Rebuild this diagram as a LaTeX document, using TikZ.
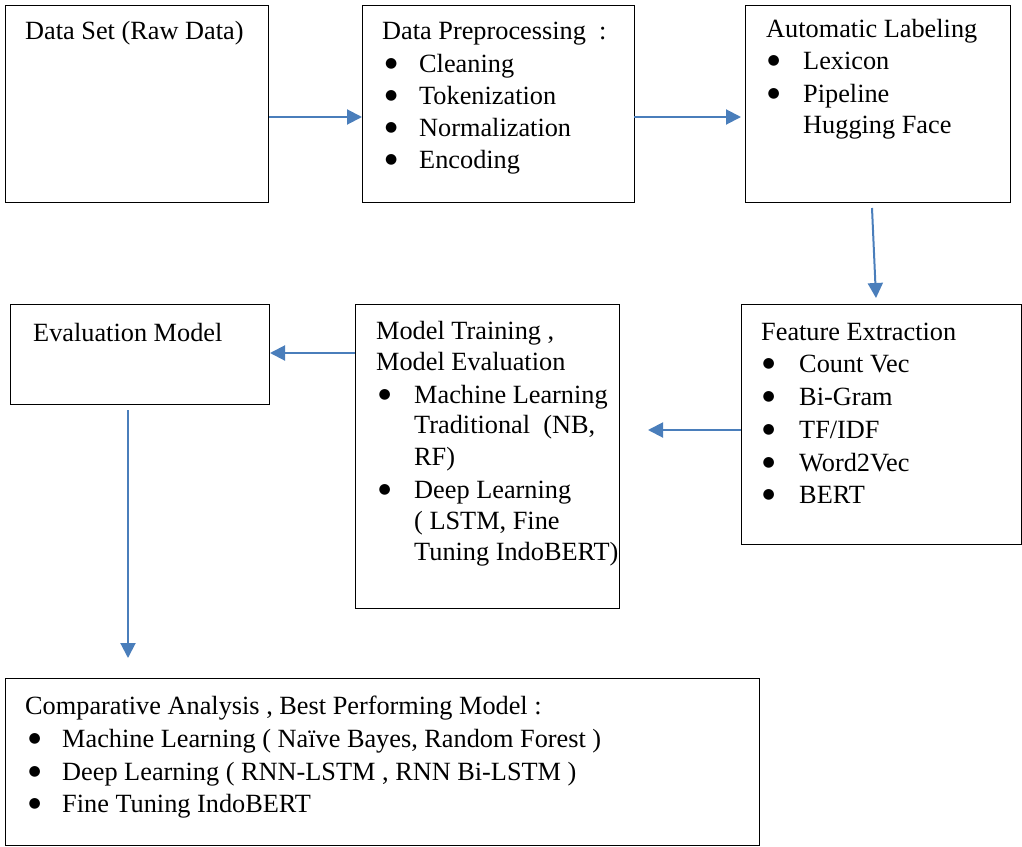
\documentclass[tikz,border=0pt]{standalone}
\usepackage{fontspec}
\setmainfont{Liberation Serif}
\newfontfamily\symfont{DejaVu Sans}
\usetikzlibrary{arrows.meta}
\definecolor{arrblue}{HTML}{4A7EBB}
\newcommand{\bulx}[1]{\makebox[#1][l]{\hspace*{0.5pt}{\symfont\fontsize{14}{16}\selectfont\raisebox{4.5pt}{●}}}}
\tikzset{
  box/.style={draw=black, line width=1pt, anchor=north west, inner sep=0pt},
  txt/.style={anchor=base west, inner sep=0pt, font=\fontsize{26.3}{32}\selectfont},
  arr/.style={draw=arrblue, line width=2pt, -{Triangle[length=15pt,width=15pt]}}
}
\begin{document}
\begin{tikzpicture}[x=1pt,y=-1pt]
\useasboundingbox (0,0) rectangle (1022,846);
% boxes
\node[box, minimum width=263pt, minimum height=197pt] (b1) at (5,5) {};
\node[box, minimum width=272pt, minimum height=197pt] (b2) at (362,5) {};
\node[box, minimum width=265pt, minimum height=197pt] (b3) at (745,5) {};
\node[box, minimum width=280pt, minimum height=240pt] (b4) at (741,304) {};
\node[box, minimum width=264pt, minimum height=304pt] (b5) at (355,304) {};
\node[box, minimum width=259pt, minimum height=100pt] (b6) at (10,304) {};
\node[box, minimum width=754pt, minimum height=167pt] (b7) at (5,678) {};
% box 1
\node[txt] (t1) at (25,39) {Data Set (Raw Data)};
% box 2
\node[txt] (t2a) at (382,39) {Data Preprocessing\ \ :};
\node[txt] (t2b) at (384.5,72) {\bulx{34.5pt}Cleaning};
\node[txt] (t2c) at (384.5,104) {\bulx{34.5pt}Tokenization};
\node[txt] (t2d) at (384.5,136) {\bulx{34.5pt}Normalization};
\node[txt] (t2e) at (384.5,168) {\bulx{34.5pt}Encoding};
% box 3
\node[txt] (t3a) at (766,37) {Automatic Labeling};
\node[txt] (t3b) at (767,69) {\bulx{36pt}Lexicon};
\node[txt] (t3c) at (767,102) {\bulx{36pt}Pipeline};
\node[txt] (t3d) at (803,133) {Hugging Face};
% box 4
\node[txt] (t4a) at (761,340) {Feature Extraction};
\node[txt] (t4b) at (762,372) {\bulx{37pt}Count Vec};
\node[txt] (t4c) at (762,405) {\bulx{37pt}Bi-Gram};
\node[txt] (t4d) at (762,438) {\bulx{37pt}TF/IDF};
\node[txt] (t4e) at (762,471) {\bulx{37pt}Word2Vec};
\node[txt] (t4f) at (762,503) {\bulx{37pt}BERT};
% box 5
\node[txt] (t5a) at (376,339) {Model Training ,};
\node[txt] (t5b) at (376,370) {Model Evaluation};
\node[txt] (t5c) at (378,403) {\bulx{36pt}Machine Learning};
\node[txt] (t5d) at (414,433) {Traditional\ \ (NB,};
\node[txt] (t5e) at (414,465) {RF)};
\node[txt] (t5f) at (378,498) {\bulx{36pt}Deep Learning};
\node[txt] (t5g) at (414,529) {( LSTM, Fine};
\node[txt] (t5h) at (414,560) {Tuning IndoBERT)};
% box 6
\node[txt] (t6) at (33,341) {Evaluation Model};
% box 7
\node[txt] (t7a) at (25,714) {Comparative Analysis , Best Performing Model :};
\node[txt] (t7b) at (28,747) {\bulx{34pt}Machine Learning ( Na\"ive Bayes, Random Forest )};
\node[txt] (t7c) at (28,780) {\bulx{34pt}Deep Learning ( RNN-LSTM , RNN Bi-LSTM )};
\node[txt] (t7d) at (28,812) {\bulx{34pt}Fine Tuning IndoBERT};
% arrow end points
\coordinate (a2s) at (634,117);
\coordinate (a2e) at (741,117);
\coordinate (a3s) at (872,208);
\coordinate (a3e) at (876,298);
\coordinate (a4s) at (741,430);
\coordinate (a4e) at (648,430);
\coordinate (a6s) at (128,410);
\coordinate (a6e) at (128,658);
% arrows
\draw[arr] (b1.east |- a2s) -- (b2.west |- a2s);
\draw[arr] (a2s) -- (a2e);
\draw[arr] (a3s) -- (a3e);
\draw[arr] (a4s) -- (a4e);
\draw[arr] (b5.west |- 0,353) -- (b6.east |- 0,353);
\draw[arr] (a6s) -- (a6e);
\end{tikzpicture}
\end{document}
